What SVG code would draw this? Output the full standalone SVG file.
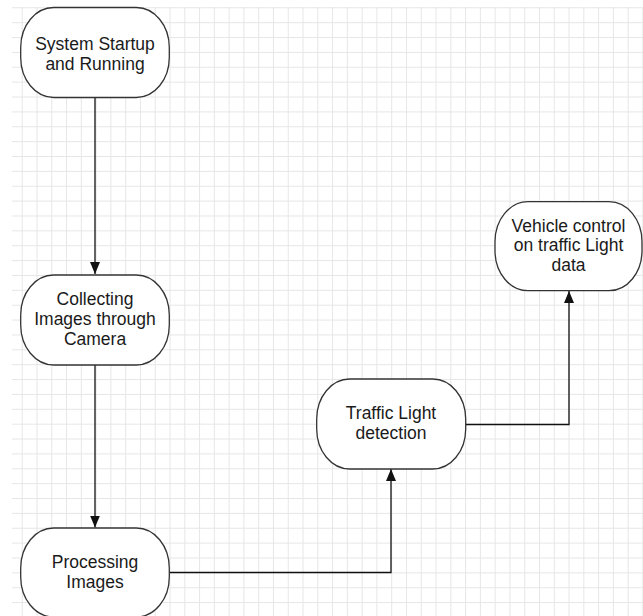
<svg xmlns="http://www.w3.org/2000/svg" width="643" height="616" viewBox="0 0 643 616">
<style>
.node rect{fill:#ffffff;stroke:#333333;stroke-width:1.3}
.node text{font-family:"Liberation Sans",Arial,sans-serif;font-size:17.5px;fill:#1a1a1a;text-anchor:middle}
.conn{fill:none;stroke:#111111;stroke-width:1.3}
</style>
<defs>
<pattern id="grid" patternUnits="userSpaceOnUse" x="21.7" y="7.3" width="14.78" height="14.87">
<path d="M0 0H14.78M0 0V14.87" fill="none" stroke="#e6e6e6" stroke-width="2"/>
</pattern>
<marker id="arr" viewBox="0 0 12 10" refX="12" refY="5" markerWidth="12" markerHeight="10" markerUnits="userSpaceOnUse" orient="auto">
<path d="M0 0L12 5L0 10Z" fill="#111111"/>
</marker>
</defs>
<rect width="643" height="616" fill="#ffffff"/>
<rect x="12" y="7" width="631" height="609" fill="url(#grid)"/>
<g id="connectors">
<path class="conn" d="M95 97.5V274" marker-end="url(#arr)"/>
<path class="conn" d="M95 365V527.5" marker-end="url(#arr)"/>
<path class="conn" d="M169.5 572.5H391V469" marker-end="url(#arr)"/>
<path class="conn" d="M466 424.5H569V291" marker-end="url(#arr)"/>
</g>
<g id="n1" class="node">
<rect x="20.7" y="7.5" width="148.6" height="90" rx="33" ry="40"/>
<text x="95" y="50">System Startup</text>
<text x="95" y="70">and Running</text>
</g>
<g id="n2" class="node">
<rect x="20.7" y="275" width="148.6" height="90" rx="33" ry="40"/>
<text x="95" y="305">Collecting</text>
<text x="95" y="325">Images through</text>
<text x="95" y="345">Camera</text>
</g>
<g id="n3" class="node">
<rect x="20.7" y="528" width="148.6" height="89" rx="33" ry="40"/>
<text x="95" y="568">Processing</text>
<text x="95" y="588">Images</text>
</g>
<g id="n4" class="node">
<rect x="316.7" y="379" width="149" height="90" rx="33" ry="40"/>
<text x="391" y="419">Traffic Light</text>
<text x="391" y="439">detection</text>
</g>
<g id="n5" class="node">
<rect x="495" y="201.7" width="147" height="89" rx="33" ry="40"/>
<text x="568.5" y="231.5">Vehicle control</text>
<text x="568.5" y="251">on traffic Light</text>
<text x="568.5" y="270.5">data</text>
</g>
</svg>
